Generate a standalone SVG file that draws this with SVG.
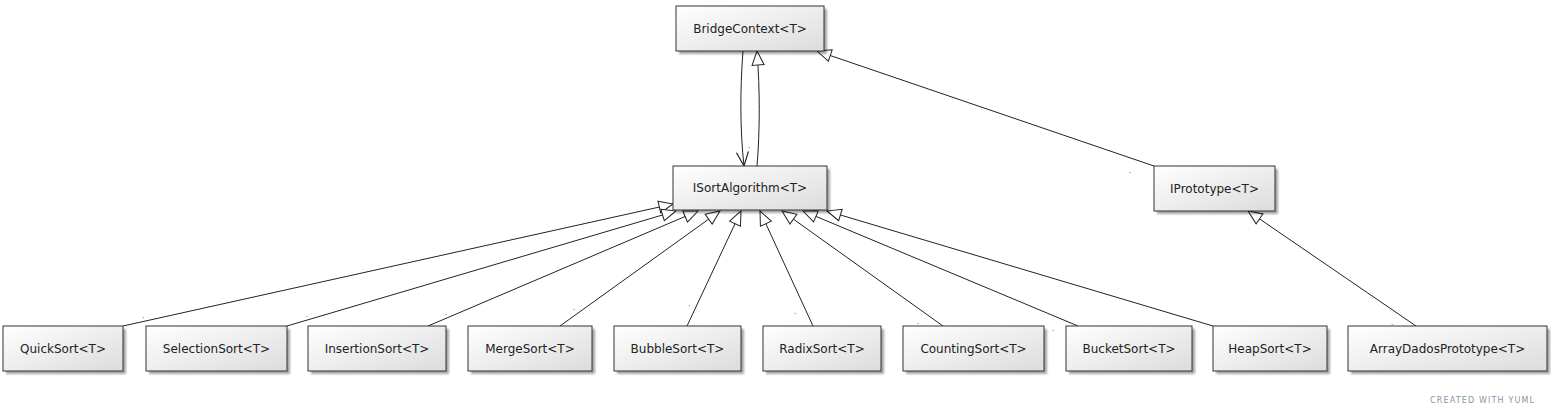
<svg xmlns="http://www.w3.org/2000/svg" width="1551" height="415" viewBox="0 0 1551 415">
<defs>
<linearGradient id="g" x1="0" y1="0" x2="1" y2="1">
<stop offset="0" stop-color="#ffffff"/>
<stop offset="1" stop-color="#dcdcdc"/>
</linearGradient>
<filter id="sh" x="-10%" y="-10%" width="130%" height="140%">
<feGaussianBlur stdDeviation="1.2"/>
</filter>
<marker id="tri" markerUnits="userSpaceOnUse" markerWidth="16" markerHeight="14" viewBox="-1 -1 16 14" refX="14" refY="6" orient="auto">
<path d="M0,0 L14,6 L0,12 z" fill="#ffffff" stroke="#222" stroke-width="1"/>
</marker>
<marker id="open" markerUnits="userSpaceOnUse" markerWidth="16" markerHeight="14" viewBox="-1 -1 16 14" refX="14" refY="6" orient="auto">
<path d="M0,0 L14,6 L0,12" fill="none" stroke="#222" stroke-width="1.2"/>
</marker>
</defs>
<style>
.box{fill:url(#g);stroke:#333;stroke-width:1}
.shd{fill:#000;opacity:0.35;filter:url(#sh)}
.lbl{font-family:"DejaVu Sans",Verdana,sans-serif;font-size:12px;fill:#222;text-anchor:middle}
.dot{font-family:"DejaVu Sans",sans-serif;font-size:7px;fill:#333;text-anchor:middle}
.ln{fill:none;stroke:#222;stroke-width:1}
.gen{marker-end:url(#tri)}
.assoc{marker-end:url(#open)}
</style>
<rect width="1551" height="415" fill="#ffffff"/>
<g id="connectors">
<path class="ln assoc" d="M743,51 C740,90 740,130 744,166"/>
<path class="ln gen" d="M757,166 C760,130 760,90 757,51"/>
<path class="ln gen" d="M1154,166 L817,51"/>
<path class="ln gen" d="M1416,326 L1248,211"/>
<path class="ln gen" d="M123,326 L673,204"/>
<path class="ln gen" d="M287,326 L676,211"/>
<path class="ln gen" d="M428,326 L698,211"/>
<path class="ln gen" d="M560,326 L720,211"/>
<path class="ln gen" d="M687,326 L741,211"/>
<path class="ln gen" d="M813,326 L760,211"/>
<path class="ln gen" d="M943,326 L782,211"/>
<path class="ln gen" d="M1078,326 L803,211"/>
<path class="ln gen" d="M1213,326 L827,211"/>
<text class="dot" x="749" y="148">.</text>
<text class="dot" x="1130" y="173">.</text>
<text class="dot" x="143" y="318">.</text>
<text class="dot" x="307" y="317">.</text>
<text class="dot" x="446" y="315">.</text>
<text class="dot" x="574" y="310">.</text>
<text class="dot" x="689" y="306">.</text>
<text class="dot" x="795" y="314">.</text>
<text class="dot" x="918" y="324">.</text>
<text class="dot" x="1053" y="331">.</text>
<text class="dot" x="1188" y="334">.</text>
<text class="dot" x="1392" y="325">.</text>
</g>
<g id="BridgeContext">
<rect class="shd" x="679" y="9" width="148" height="45"/>
<rect class="box" x="676" y="6" width="148" height="45"/>
<text class="lbl" x="750" y="33">BridgeContext&lt;T&gt;</text>
</g>
<g id="ISortAlgorithm">
<rect class="shd" x="676" y="169" width="154" height="44"/>
<rect class="box" x="673" y="166" width="154" height="44"/>
<text class="lbl" x="750" y="192">ISortAlgorithm&lt;T&gt;</text>
</g>
<g id="IPrototype">
<rect class="shd" x="1157" y="169" width="121" height="45"/>
<rect class="box" x="1154" y="166" width="121" height="45"/>
<text class="lbl" x="1214.5" y="193">IPrototype&lt;T&gt;</text>
</g>
<g id="QuickSort">
<rect class="shd" x="6" y="329" width="120" height="45"/>
<rect class="box" x="3" y="326" width="120" height="45"/>
<text class="lbl" x="63" y="353">QuickSort&lt;T&gt;</text>
</g>
<g id="SelectionSort">
<rect class="shd" x="149" y="329" width="141" height="45"/>
<rect class="box" x="146" y="326" width="141" height="45"/>
<text class="lbl" x="216.5" y="353">SelectionSort&lt;T&gt;</text>
</g>
<g id="InsertionSort">
<rect class="shd" x="311" y="329" width="138" height="45"/>
<rect class="box" x="308" y="326" width="138" height="45"/>
<text class="lbl" x="377" y="353">InsertionSort&lt;T&gt;</text>
</g>
<g id="MergeSort">
<rect class="shd" x="471" y="329" width="124" height="45"/>
<rect class="box" x="468" y="326" width="124" height="45"/>
<text class="lbl" x="530" y="353">MergeSort&lt;T&gt;</text>
</g>
<g id="BubbleSort">
<rect class="shd" x="617" y="329" width="127" height="45"/>
<rect class="box" x="614" y="326" width="127" height="45"/>
<text class="lbl" x="677.5" y="353">BubbleSort&lt;T&gt;</text>
</g>
<g id="RadixSort">
<rect class="shd" x="766" y="329" width="118" height="45"/>
<rect class="box" x="763" y="326" width="118" height="45"/>
<text class="lbl" x="822" y="353">RadixSort&lt;T&gt;</text>
</g>
<g id="CountingSort">
<rect class="shd" x="906" y="329" width="141" height="45"/>
<rect class="box" x="903" y="326" width="141" height="45"/>
<text class="lbl" x="973.5" y="353">CountingSort&lt;T&gt;</text>
</g>
<g id="BucketSort">
<rect class="shd" x="1069" y="329" width="126" height="45"/>
<rect class="box" x="1066" y="326" width="126" height="45"/>
<text class="lbl" x="1129" y="353">BucketSort&lt;T&gt;</text>
</g>
<g id="HeapSort">
<rect class="shd" x="1216" y="329" width="114" height="45"/>
<rect class="box" x="1213" y="326" width="114" height="45"/>
<text class="lbl" x="1270" y="353">HeapSort&lt;T&gt;</text>
</g>
<g id="ArrayDadosPrototype">
<rect class="shd" x="1351" y="329" width="199" height="45"/>
<rect class="box" x="1348" y="326" width="199" height="45"/>
<text class="lbl" x="1447.5" y="353">ArrayDadosPrototype&lt;T&gt;</text>
</g>
<text x="1430" y="403" font-family="DejaVu Sans,sans-serif" font-size="8" fill="#8496a6" textLength="104" lengthAdjust="spacing">CREATED WITH YUML</text>
</svg>
